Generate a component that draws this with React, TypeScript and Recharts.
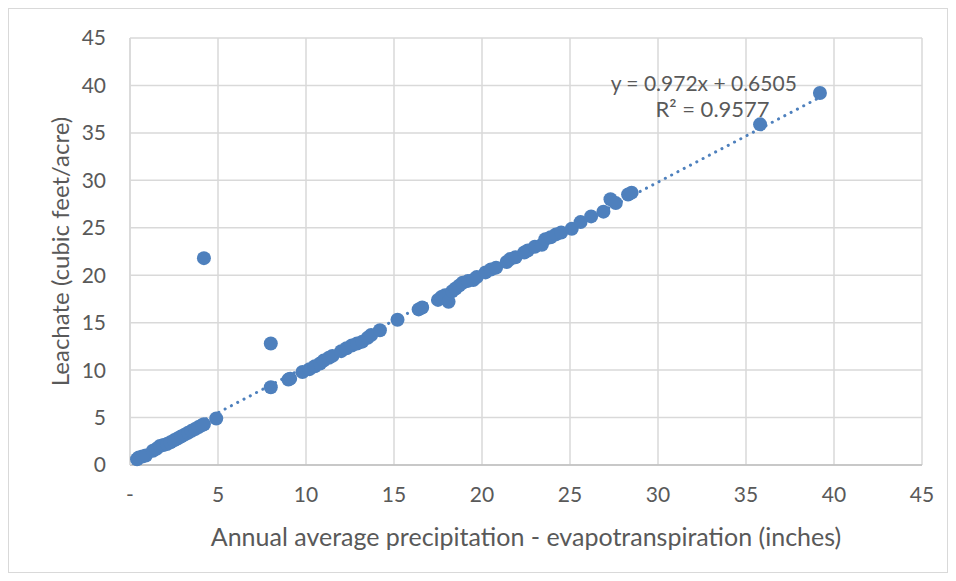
import React from 'react';
import {
  ScatterChart, Scatter, XAxis, YAxis, CartesianGrid, ReferenceLine, ReferenceDot,
} from 'recharts';

// P - ET (inches) vs leachate (cubic feet/acre)
const xValues = [
  0.4, 0.5, 0.7, 0.9, 1.3, 1.5, 1.7, 1.9, 2.1, 2.3, 2.5, 2.7, 2.9, 3.1, 3.3, 3.5, 3.7, 3.9, 4.1, 4.2,
  4.2, 4.9, 8.0, 8.0, 9.0, 9.1,
  9.8, 10.2, 10.5, 10.8, 11.0, 11.3, 11.5, 12.0, 12.3, 12.6, 12.9, 13.2, 13.5, 13.7, 14.2,
  15.2, 16.4, 16.6,
  17.5, 17.7, 17.9, 18.1, 18.3, 18.5, 18.7, 18.9, 19.2, 19.5, 19.7,
  20.2, 20.5, 20.8, 21.4, 21.6, 21.9, 22.4, 22.6, 23.0, 23.4, 23.6, 23.9, 24.2, 24.5,
  25.1, 25.6, 26.2, 26.9, 27.3, 27.6, 28.3, 28.5, 35.8, 39.2,
];
const yValues = [
  0.6, 0.8, 0.9, 1.0, 1.5, 1.7, 2.0, 2.1, 2.2, 2.4, 2.6, 2.8, 3.0, 3.2, 3.4, 3.6, 3.8, 4.0, 4.2, 4.3,
  21.8, 4.9, 12.8, 8.2, 9.0, 9.1,
  9.8, 10.1, 10.4, 10.7, 11.0, 11.3, 11.5, 12.0, 12.3, 12.6, 12.8, 13.0, 13.4, 13.7, 14.2,
  15.3, 16.4, 16.6,
  17.4, 17.7, 17.9, 17.2, 18.3, 18.6, 18.9, 19.2, 19.4, 19.5, 19.8,
  20.3, 20.6, 20.8, 21.4, 21.7, 21.9, 22.4, 22.6, 23.0, 23.2, 23.8, 24.0, 24.3, 24.5,
  24.9, 25.6, 26.2, 26.7, 28.0, 27.6, 28.5, 28.7, 35.9, 39.2,
];
const axisTicks = [0, 5, 10, 15, 20, 25, 30, 35, 40, 45];

// Excel linear trendline
const slope = 0.972;
const intercept = 0.6505;
const trendLabel = 'y = 0.972x + 0.6505';
const r2Label = 'R² = 0.9577';

const points = xValues.map((x, i) => ({ x, y: yValues[i] }));
const xMin = Math.min(...xValues);
const xMax = Math.max(...xValues);
const trendSegment = [
  { x: xMin, y: slope * xMin + intercept },
  { x: xMax, y: slope * xMax + intercept },
];

const BLUE = '#4e80bd';
const TEXT = '#595959';
const FONT = 'Lato, "Open Sans", sans-serif';

const dot = (p: any) => <circle cx={p.cx} cy={p.cy} r={7} fill={BLUE} />;

export default function App() {
  return (
    <div style={{ width: 938, height: 563, border: '1px solid #d9d9d9', background: '#fff', fontFamily: FONT }}>
      <ScatterChart width={938} height={563} margin={{ top: 29, right: 25, bottom: 77, left: 0 }}>
        <CartesianGrid stroke="#d9d9d9" strokeWidth={1.5} />
        <XAxis
          type="number" dataKey="x" domain={[0, 45]} ticks={axisTicks} interval={0} height={30}
          stroke="#bfbfbf" strokeWidth={1.5} tickLine={false} tickSize={0} tickMargin={22}
          tick={{ fill: TEXT, fontSize: 21, fontFamily: FONT }}
          tickFormatter={(v: number) => (v === 0 ? '-' : String(v))}
          label={{ value: 'Annual average precipitation - evapotranspiration (inches)', position: 'bottom', offset: 33, fill: TEXT, fontSize: 25, fontFamily: FONT }}
        />
        <YAxis
          type="number" dataKey="y" domain={[0, 45]} ticks={axisTicks} interval={0} width={121}
          stroke="#d9d9d9" strokeWidth={1.5} tickLine={false} tickSize={0} tickMargin={24}
          tick={{ fill: TEXT, fontSize: 21, fontFamily: FONT }}
          label={{ value: 'Leachate (cubic feet/acre)', angle: -90, position: 'insideLeft', offset: 51, fill: TEXT, fontSize: 24, fontFamily: FONT, style: { textAnchor: 'middle' } }}
        />
        <ReferenceLine
          segment={trendSegment} stroke={BLUE} strokeWidth={3}
          strokeDasharray="0.1 7" strokeLinecap="round" ifOverflow="extendDomain"
        />
        <Scatter data={points} fill={BLUE} shape={dot} isAnimationActive={false} />
        <ReferenceDot x={32.6} y={40.2} r={0} fill="none" stroke="none"
          label={{ value: trendLabel, position: 'center', fill: TEXT, fontSize: 21, fontFamily: FONT }} />
        <ReferenceDot x={33.1} y={37.5} r={0} fill="none" stroke="none"
          label={{ value: r2Label, position: 'center', fill: TEXT, fontSize: 22, fontFamily: FONT }} />
      </ScatterChart>
    </div>
  );
}
